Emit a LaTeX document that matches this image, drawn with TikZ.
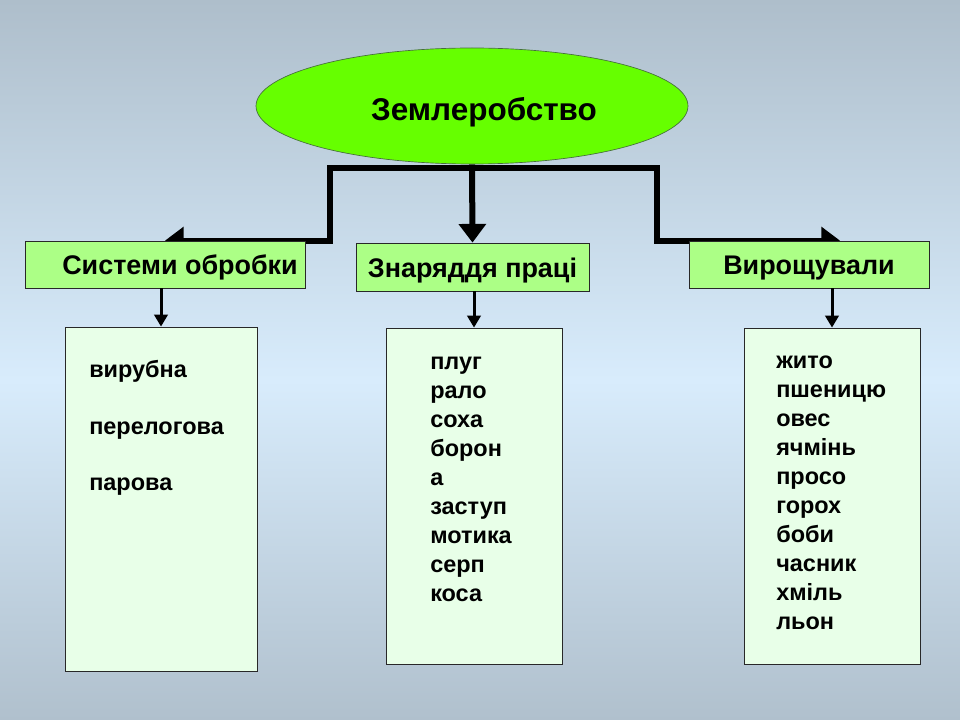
\documentclass[tikz,border=0pt]{standalone}
\usepackage{fontspec}
\setmainfont{Liberation Sans}
\usetikzlibrary{shapes.geometric,arrows.meta}
\definecolor{bgtop}{RGB}{174,190,203}
\definecolor{bgmid}{RGB}{216,236,252}
\definecolor{bgbot}{RGB}{176,192,205}
\definecolor{ellfill}{RGB}{102,255,0}
\definecolor{ellborder}{RGB}{70,110,60}
\definecolor{hdrfill}{RGB}{172,255,134}
\definecolor{boxfill}{RGB}{232,255,232}
\definecolor{edge}{RGB}{40,40,40}
\pgfdeclarelayer{bg}
\pgfdeclarelayer{mid}
\pgfsetlayers{bg,mid,main}
\tikzset{
  hdr/.style={draw=edge, line width=0.6pt, fill=hdrfill, inner sep=0pt,
    font=\fontsize{20.2}{23}\selectfont\bfseries},
  listbox/.style={draw=edge, line width=0.6pt, fill=boxfill, inner sep=0pt},
  listtext/.style={anchor=north west, inner sep=0pt, align=left,
    font=\fontsize{17.6}{21.75}\selectfont\bfseries},
  bigline/.style={line width=4.5pt},
  bigtip/.style={-{Triangle[length=14pt,width=20pt]}},
  smallarr/.style={line width=2.25pt, -{Triangle[length=9pt,width=10pt]}}
}
\begin{document}
\begin{tikzpicture}[x=0.75pt,y=-0.75pt]
\begin{pgfonlayer}{bg}
\shade[top color=bgtop, bottom color=bgmid] (0,0) rectangle (960,380);
\shade[top color=bgmid, bottom color=bgbot] (0,379.5) rectangle (960,720);
\end{pgfonlayer}
\useasboundingbox (0,0) rectangle (960,720);

% top ellipse
\node[ellipse, draw=ellborder, line width=0.5pt, fill=ellfill, minimum width=324pt,
  minimum height=87pt, inner sep=0pt, font=\fontsize{23.6}{26}\selectfont\bfseries]
  (ell) at (472,106) {\hspace*{18pt}\raisebox{-4.5pt}[\height][\depth]{Землеробство}};

% headers
\node[hdr, minimum width=210pt, minimum height=35.25pt] (b1) at (165,264.5)
  {\hspace*{22.5pt}\raisebox{-2.2pt}[\height][\depth]{Системи обробки}};
\node[hdr, minimum width=174.75pt, minimum height=36pt] (b2) at (472.5,267)
  {\raisebox{-3pt}[\height][\depth]{Знаряддя праці}};
\node[hdr, minimum width=180pt, minimum height=35.25pt] (b3) at (809,264.5)
  {\raisebox{-3pt}[\height][\depth]{Вирощували}};

% list boxes
\node[listbox, minimum width=144pt, minimum height=258pt] (bA) at (161,499) {};
\node[listbox, minimum width=132pt, minimum height=252pt] (bB) at (474,496) {};
\node[listbox, minimum width=132pt, minimum height=252pt] (bC) at (832,496) {};

\node[listtext] (tA) at (89,357)
  {\strut вирубна\\[20.6pt]перелогова\\[20.6pt]парова};
\node[listtext] (tB) at (430,348.5)
  {\strut плуг\\рало\\соха\\борон\\а\\заступ\\мотика\\серп\\коса};
\node[listtext] (tC) at (776,348)
  {\strut жито\\пшеницю\\овес\\ячмінь\\просо\\горох\\боби\\часник\\хміль\\льон};

% connectors
\begin{pgfonlayer}{mid}
\coordinate (jl) at (330,168);
\coordinate (jr) at (657,168);
\draw[bigline, {Triangle[length=14pt,width=20pt]}-{Triangle[length=14pt,width=20pt]}]
  (b1.north) -- (jl |- b1.north) -- (jl) -- (jr) -- (jr |- b3.north)
  -- ([xshift=23.25pt]b3.north);
\draw[bigline, bigtip] (ell.south) -- (b2.north);
\end{pgfonlayer}
\draw[smallarr] (bA.north |- b1.south) -- (bA.north);
\draw[smallarr] (bB.north |- b2.south) -- (bB.north);
\draw[smallarr] (bC.north |- b3.south) -- (bC.north);
\end{tikzpicture}
\end{document}
